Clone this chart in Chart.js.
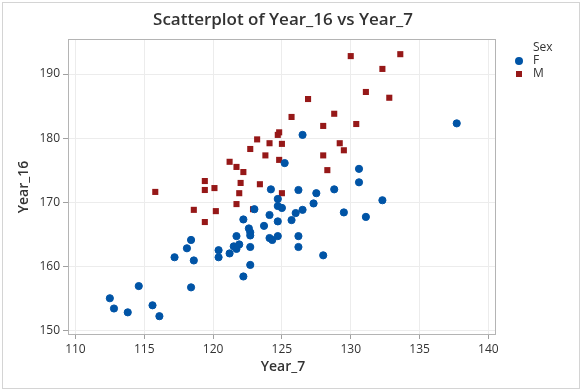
<!DOCTYPE html>
<html>
<head>
<meta charset="utf-8">
<script src="https://cdn.jsdelivr.net/npm/chart.js@4"></script>
<style>
body { margin: 0; background: #fff; }
canvas { display: block; }
</style>
</head>
<body>
<canvas id="canvas" width="583" height="392"></canvas>
<script>
// values
var femaleX = [112.5, 112.8, 113.8, 114.6, 115.6, 116.1, 117.2, 118.1, 118.4, 118.6,
	118.4, 120.4, 120.4, 121.2, 121.5, 121.9, 121.7, 121.7, 122.2, 122.2,
	122.6, 122.7, 122.7, 122.7, 122.7, 123.0, 123.7, 124.1, 124.2, 124.1,
	124.3, 124.7, 124.7, 125.0, 124.7, 124.7, 125.2, 125.7, 126.0, 126.2,
	126.2, 126.2, 126.5, 126.5, 127.3, 127.5, 128.0, 128.8, 129.5, 130.6,
	130.6, 131.1, 132.3, 137.7];
var femaleY = [155.0, 153.4, 152.8, 156.9, 153.9, 152.2, 161.4, 162.8, 164.1, 160.9,
	156.7, 162.5, 161.4, 162.0, 163.1, 163.4, 162.7, 164.7, 167.3, 158.4,
	165.9, 165.3, 164.8, 163.0, 160.2, 168.9, 166.3, 168.0, 172.0, 164.4,
	164.1, 170.5, 169.4, 169.1, 167.0, 164.7, 176.1, 167.2, 168.3, 171.9,
	164.7, 163.0, 168.8, 180.5, 169.8, 171.4, 161.7, 172.0, 168.4, 175.2,
	173.1, 167.7, 170.3, 182.3];
var maleX = [115.8, 118.6, 119.4, 119.4, 119.4, 120.1, 120.2, 121.2, 121.7, 122.2,
	122.0, 121.9, 121.7, 122.7, 122.9, 123.2, 123.4, 123.8, 124.1, 124.8,
	124.7, 125.0, 124.8, 125.0, 125.7, 126.9, 128.0, 128.0, 128.3, 128.8,
	129.2, 129.5, 130.0, 130.4, 131.1, 132.3, 132.8, 133.6];
var maleY = [171.6, 168.8, 173.3, 171.9, 166.9, 172.2, 168.6, 176.3, 175.5, 174.7,
	173.0, 171.4, 169.7, 178.3, 168.9, 179.8, 172.8, 177.3, 179.2, 180.9,
	180.5, 179.1, 176.6, 171.4, 183.3, 186.1, 181.9, 177.3, 175.0, 183.8,
	179.2, 178.1, 192.8, 182.2, 187.2, 190.8, 186.3, 193.1];
var xTicks = [110, 115, 120, 125, 130, 135, 140];
var yTicks = [150, 160, 170, 180, 190];
var groups = ['F', 'M'];
var blue = '#0054a6';
var red = '#961818';
var font = "'Open Sans', 'DejaVu Sans', sans-serif";

function toPoints(xs, ys){
	var r = [];
	for(var i = 0; i < xs.length; i++){
		r.push({x: xs[i], y: ys[i]});
	}
	return r;
}

var decor = {
	id: 'decor',
	afterDraw: function(chart){
		var ctx = chart.ctx;
		var a = chart.chartArea;
		ctx.save();
		// outer frame
		ctx.strokeStyle = '#d4d4d4';
		ctx.lineWidth = 1;
		ctx.strokeRect(2.5, 2.5, 577, 386);
		// plot frame
		ctx.strokeStyle = '#b4b4b4';
		ctx.strokeRect(a.left + 0.5, a.top + 0.5, a.right - a.left, a.bottom - a.top);
		// title
		ctx.fillStyle = '#333';
		ctx.textAlign = 'center';
		ctx.textBaseline = 'middle';
		ctx.font = "600 17px " + font;
		ctx.fillText('Scatterplot of Year_16 vs Year_7', 283, 20);
		// axis titles
		ctx.font = "600 14px " + font;
		ctx.fillText('Year_7', 283, 367);
		ctx.save();
		ctx.translate(24, 187);
		ctx.rotate(-Math.PI / 2);
		ctx.fillText('Year_16', 0, 0);
		ctx.restore();
		// legend
		ctx.textAlign = 'left';
		ctx.font = "12px " + font;
		ctx.fillText('Sex', 533, 48);
		ctx.fillText(groups[0], 533, 61);
		ctx.fillText(groups[1], 533, 74);
		ctx.fillStyle = blue;
		ctx.beginPath();
		ctx.arc(519, 61, 4, 0, Math.PI * 2);
		ctx.fill();
		ctx.fillStyle = red;
		ctx.fillRect(516, 71, 6, 6);
		ctx.restore();
	}
};

var ctx = document.getElementById('canvas').getContext('2d');
window.myChart = new Chart(ctx, {
	type: 'scatter',
	data: {
		datasets: [{
			label: groups[0],
			data: toPoints(femaleX, femaleY),
			pointStyle: 'circle',
			pointRadius: 3.6,
			pointBorderWidth: 1,
			backgroundColor: blue,
			borderColor: blue,
			order: 1
		}, {
			label: groups[1],
			data: toPoints(maleX, maleY),
			pointStyle: 'rect',
			pointRadius: 4.3,
			pointBorderWidth: 0,
			backgroundColor: red,
			borderColor: red,
			order: 2
		}]
	},
	options: {
		responsive: false,
		animation: false,
		layout: {
			padding: {left: 0, right: 88, top: 39, bottom: 0}
		},
		plugins: {
			legend: {display: false},
			title: {display: false},
			tooltip: {enabled: false}
		},
		scales: {
			x: {
				type: 'linear',
				min: 109.46,
				max: 140.48,
				afterBuildTicks: function(axis){
					axis.ticks = xTicks.map(function(v){ return {value: v}; });
				},
				afterFit: function(axis){ axis.height = 58; },
				grid: {color: '#ececec', tickColor: '#a0a0a0', tickLength: 5},
				border: {display: false},
				ticks: {color: '#333', padding: 3, font: {family: font, size: 12}, maxRotation: 0}
			},
			y: {
				type: 'linear',
				min: 149.42,
				max: 195.47,
				afterBuildTicks: function(axis){
					axis.ticks = yTicks.map(function(v){ return {value: v}; });
				},
				afterFit: function(axis){ axis.width = 68; },
				grid: {color: '#ececec', tickColor: '#a0a0a0', tickLength: 5},
				border: {display: false},
				ticks: {color: '#333', padding: 3, font: {family: font, size: 12}}
			}
		}
	},
	plugins: [decor]
});
</script>
</body>
</html>
